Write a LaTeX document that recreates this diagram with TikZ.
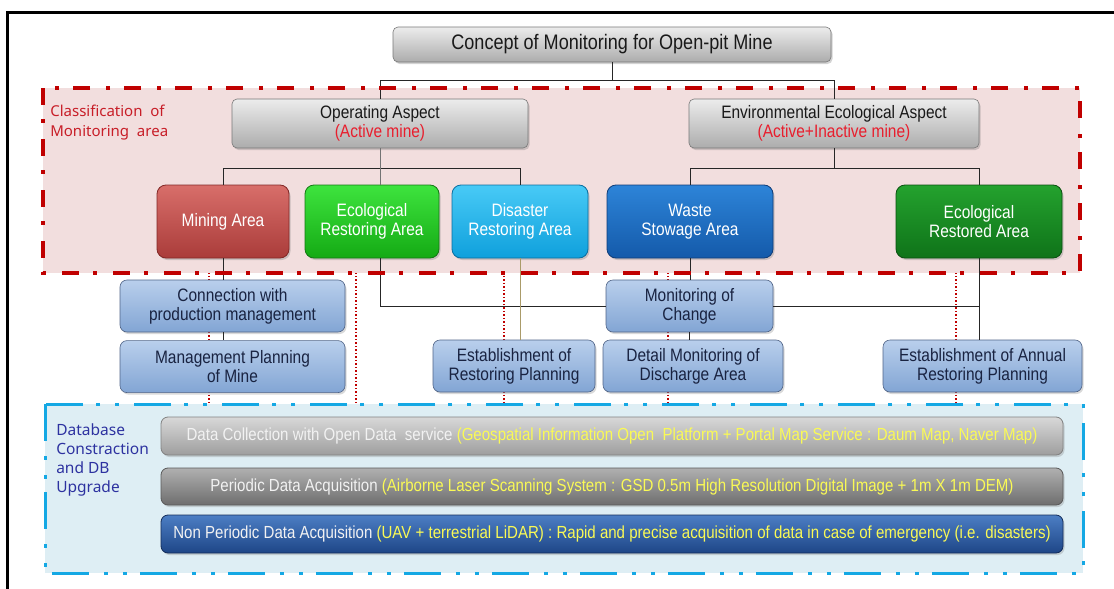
\documentclass[tikz,border=0pt]{standalone}
\usepackage{fontspec}
\usepackage{tikz}
\usetikzlibrary{positioning,shadows}
\newfontfamily\boxfont[FakeStretch=0.86]{Liberation Sans}
\newfontfamily\labelfont{Noto Sans}

\definecolor{framered}{RGB}{192,0,0}
\definecolor{labelred}{RGB}{200,30,40}
\definecolor{areapink}{RGB}{242,222,222}
\definecolor{dbcyan}{RGB}{20,168,228}
\definecolor{dbfill}{RGB}{222,238,244}
\definecolor{dbblue}{RGB}{45,50,160}
\definecolor{aspecttop}{RGB}{236,236,236}
\definecolor{aspectbot}{RGB}{172,172,172}
\definecolor{aspectedge}{RGB}{120,120,120}
\definecolor{aspectred}{RGB}{232,30,45}
\definecolor{tasktop}{RGB}{185,207,236}
\definecolor{taskbot}{RGB}{130,165,212}
\definecolor{taskedge}{RGB}{80,100,135}
\definecolor{tasktext}{RGB}{25,35,65}
\definecolor{barwhite}{RGB}{242,242,242}
\definecolor{baryellow}{RGB}{250,250,85}
\definecolor{oliveline}{RGB}{170,155,105}

\pgfdeclarelayer{background}
\pgfsetlayers{background,main}

\begin{document}
\begin{tikzpicture}[x=1pt,y=-1pt,semithick]
  \tikzstyle{every node}=[font=\boxfont\fontsize{18}{19}\selectfont, inner sep=0pt]
  \tikzstyle{aspect}=[rounded corners=5pt, draw=aspectedge, top color=aspecttop, bottom color=aspectbot, align=center, text=black!90, minimum height=49pt, drop shadow={opacity=0.35,shadow xshift=1.5pt,shadow yshift=-2pt}]
  \tikzstyle{area}=[rounded corners=9pt, line width=0.8pt, align=center, text=white, minimum height=73pt, drop shadow={opacity=0.35,shadow xshift=1.5pt,shadow yshift=-2pt}]
  \tikzstyle{task}=[rounded corners=7pt, draw=taskedge, top color=tasktop, bottom color=taskbot, align=center, text=tasktext, minimum height=52pt, drop shadow={opacity=0.3,shadow xshift=1.5pt,shadow yshift=-2pt}]
  \tikzstyle{bar}=[rounded corners=7pt, line width=0.8pt, minimum width=902pt, align=center, font=\boxfont\fontsize{17.5}{19}\selectfont, drop shadow={opacity=0.3,shadow xshift=1.5pt,shadow yshift=-2pt}]
  \tikzstyle{link}=[draw=black!85, line width=0.9pt]
  \tikzstyle{reddot}=[draw=framered, dotted, line width=1.5pt]

  \useasboundingbox (0,0) rectangle (1114,589);

  % regions
  \fill[areapink] (43,88) rectangle (1080,273);
  \fill[dbfill] (45,404) rectangle (1083,573);

  \node[aspect, minimum width=438pt, minimum height=35pt, font=\boxfont\fontsize{21}{22}\selectfont] (title) at (612,44.5) {Concept of Monitoring for Open-pit Mine};
  \node[aspect, minimum width=296pt] (op) at (380,123.5) {Operating Aspect\\\textcolor{aspectred}{(Active mine)}};
  \node[aspect, minimum width=290pt] (env) at (834,123.5) {Environmental Ecological Aspect\\\textcolor{aspectred}{(Active+Inactive mine)}};

  \node[area, minimum width=132pt, draw={rgb,255:red,130;green,40;blue,38}, top color={rgb,255:red,216;green,110;blue,106}, bottom color={rgb,255:red,170;green,60;blue,58}] (mining) at (223,221.5) {Mining Area};
  \node[area, minimum width=134pt, draw={rgb,255:red,20;green,120;blue,20}, top color={rgb,255:red,62;green,228;blue,62}, bottom color={rgb,255:red,20;green,170;blue,20}] (ecoR) at (372,221.5) {Ecological\\Restoring Area};
  \node[area, minimum width=136pt, draw={rgb,255:red,10;green,110;blue,160}, top color={rgb,255:red,72;green,202;blue,246}, bottom color={rgb,255:red,15;green,160;blue,220}] (disaster) at (520,221.5) {Disaster\\Restoring Area};
  \node[area, minimum width=166pt, draw={rgb,255:red,15;green,60;blue,120}, top color={rgb,255:red,45;green,132;blue,216}, bottom color={rgb,255:red,20;green,90;blue,170}] (waste) at (690,221.5) {Waste\\Stowage Area};
  \node[area, minimum width=166pt, draw={rgb,255:red,10;green,80;blue,15}, top color={rgb,255:red,36;green,162;blue,46}, bottom color={rgb,255:red,15;green,115;blue,25}] (ecoD) at (979,221.5) {Ecological\\Restored Area};

  \node[task, minimum width=225pt] (conn) at (232.5,306) {Connection with\\production management};
  \node[task, minimum width=225pt, below=8pt of conn] (mgmt) {Management Planning\\of Mine};
  \node[task, minimum width=162pt] (estR) at (514,366) {Establishment of\\Restoring Planning};
  \node[task, minimum width=167pt] (change) at (689.5,306) {Monitoring of\\Change};
  \node[task, minimum width=180pt] (detail) at (693,366) {Detail Monitoring of\\Discharge Area};
  \node[task, minimum width=199pt] (annual) at (982.5,366) {Establishment of Annual\\Restoring Planning};

  \node[bar, minimum height=38pt, draw={rgb,255:red,130;green,130;blue,130}, top color={rgb,255:red,216;green,216;blue,216}, bottom color={rgb,255:red,158;green,158;blue,158}] (bar1) at (612,436) {\textcolor{barwhite}{Data Collection with Open Data\ \ service} \textcolor{baryellow}{(Geospatial Information Open\ \ Platform + Portal Map Service : Daum Map, Naver Map)}};
  \node[bar, minimum height=37pt, draw={rgb,255:red,90;green,90;blue,90}, top color={rgb,255:red,176;green,176;blue,176}, bottom color={rgb,255:red,110;green,110;blue,110}] (bar2) at (612,486.5) {\textcolor{barwhite}{Periodic Data Acquisition} \textcolor{baryellow}{(Airborne Laser Scanning System : GSD 0.5m High Resolution Digital Image + 1m X 1m DEM)}};
  \node[bar, minimum height=38pt, draw={rgb,255:red,20;green,45;blue,90}, top color={rgb,255:red,76;green,126;blue,196}, bottom color={rgb,255:red,30;green,70;blue,135}] (bar3) at (612,534) {\textcolor{barwhite}{Non Periodic Data Acquisition} \textcolor{baryellow}{(UAV + terrestrial LiDAR) : Rapid and precise acquisition of data in case of emergency (i.e. disasters)}};

  \node[anchor=west, align=left, text=labelred, font=\labelfont\fontsize{15}{20}\selectfont] (classlabel) at (50,123) {Classification\ \ of\\Monitoring\ \ area};
  \node[anchor=west, align=left, text=dbblue, font=\labelfont\fontsize{15.5}{19}\selectfont] (dblabel) at (56,460) {Database\\Constraction\\and DB\\Upgrade};

  % red dotted guides behind the boxes
  \begin{pgfonlayer}{background}
    \foreach \a/\s in {mining/-14, ecoR/-16, disaster/-16, waste/-22, ecoD/-23}
      \draw[reddot] ([xshift=\s pt]\a.south) -- ([xshift=\s pt]\a.south |- bar2.north);
  \end{pgfonlayer}

  % tree
  \draw[link] (title.south) -- ++(0,18.5) -| (op.north);
  \draw[link] (title.south) -- ++(0,18.5) -| (env.north);
  \draw[link] (op.south) -- ++(0,20) -| (mining.north);
  \draw[link] (op.south) -- ++(0,20) -| (disaster.north);
  \draw[link, draw=black!55] (op.south) -- (op.south |- ecoR.north);
  \draw[link] (env.south) -- ++(0,20) -| (waste.north);
  \draw[link] (env.south) -- ++(0,20) -| (ecoD.north);

  \draw[link] (mining.south) -- (mining.south |- conn.north);
  \draw[link] (mining.south |- conn.south) -- (mining.south |- mgmt.north);
  \draw[link] (op.south |- ecoR.south) |- (change.west);
  \draw[link, draw=oliveline] (disaster.south) -- (disaster.south |- estR.north);
  \draw[link] (waste.south) -- (waste.south |- change.north);
  \draw[link] (change.south) -- (change.south |- detail.north);
  \draw[link] (change.east) -- (change.east -| ecoD.south);
  \draw[link] (ecoD.south) -- (ecoD.south |- annual.north);

  % region borders and frame
  \draw[framered, line width=4pt, dash pattern=on 17pt off 14pt on 4pt off 16pt] (43,88) rectangle (1080,273);
  \draw[dbcyan, line width=3pt, dash pattern=on 37pt off 15pt on 4pt off 15pt on 4pt off 13pt] (45,404) rectangle (1083,573);
  \draw[line width=3pt] (7.5,595) -- (7.5,12) -- (1120,12);

\end{tikzpicture}
\end{document}
